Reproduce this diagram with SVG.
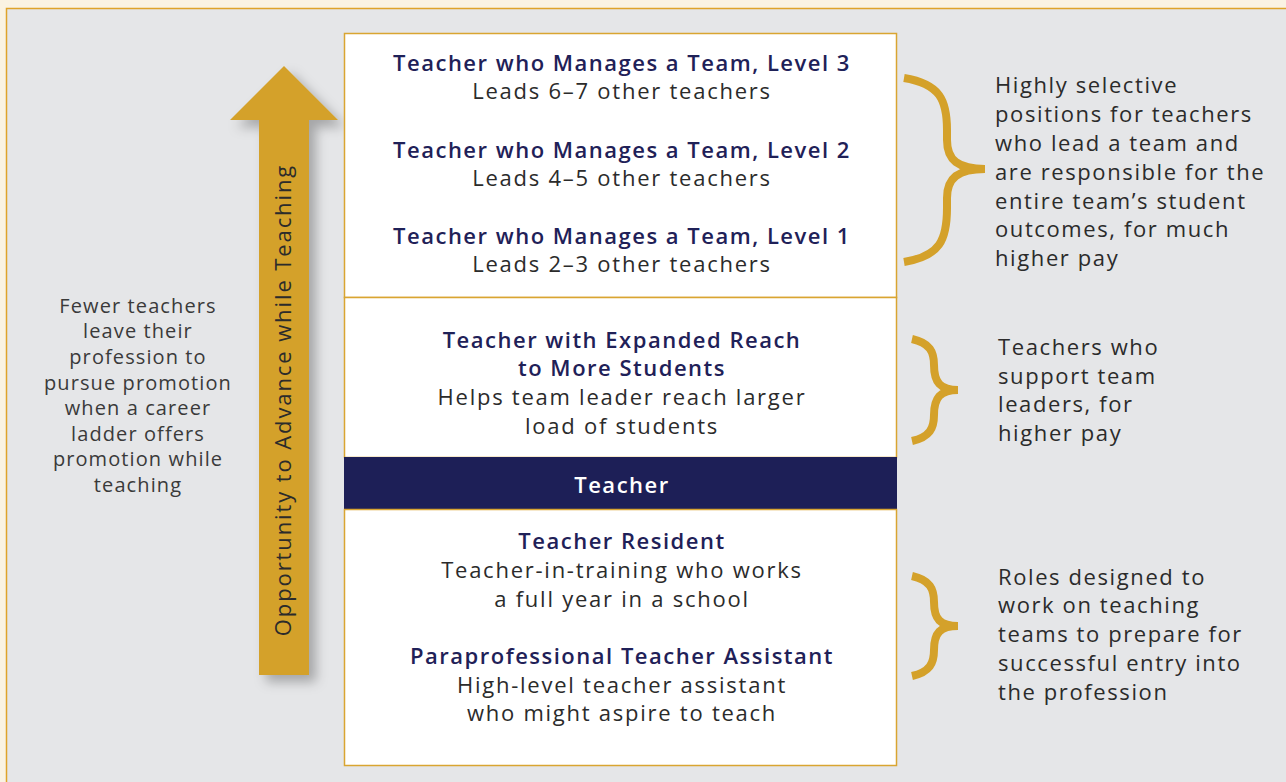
<svg xmlns="http://www.w3.org/2000/svg" width="1286" height="782" viewBox="0 0 1286 782">
<defs>
<filter id="shadow" x="-40%" y="-20%" width="180%" height="140%">
<feDropShadow dx="7" dy="7" stdDeviation="6" flood-color="#000" flood-opacity="0.28"/>
</filter>
<style>
.t{font-family:"Open Sans","Liberation Sans",sans-serif;font-size:22px;font-weight:600;fill:#1f2158;text-anchor:middle;letter-spacing:1.5px}
.s{font-family:"Open Sans","Liberation Sans",sans-serif;font-size:22px;fill:#2b2b2b;text-anchor:middle;letter-spacing:1.75px}
.r{font-family:"Open Sans","Liberation Sans",sans-serif;font-size:22px;fill:#2b2b2b;letter-spacing:1.6px}
.l{font-family:"Open Sans","Liberation Sans",sans-serif;font-size:20px;fill:#3a3a3a;text-anchor:middle;letter-spacing:1.1px}
.brace{fill:none;stroke:#d4a12a;stroke-width:8;stroke-linecap:butt}
.box{fill:#fff;stroke:#d9a531;stroke-width:1.5}
</style>
</defs>
<rect x="0" y="0" width="1286" height="782" fill="#faf3e3"/>
<rect x="6.5" y="8.5" width="1290" height="790" fill="#e5e6e8" stroke="#dfa32a" stroke-width="1.5"/>

<g id="arrow">
<path d="M259,675 L259,120 L230,120 L284,66 L338,120 L309,120 L309,675 Z" fill="#d4a12a" filter="url(#shadow)"/>
<text transform="translate(291,400) rotate(-90)" font-family="'Open Sans','Liberation Sans',sans-serif" font-size="22" fill="#2b2b2b" text-anchor="middle" letter-spacing="1.9">Opportunity to Advance while Teaching</text>
</g>

<g id="left-note">
<text class="l" x="138" y="313">Fewer teachers</text>
<text class="l" x="138" y="338">leave their</text>
<text class="l" x="138" y="364">profession to</text>
<text class="l" x="138" y="390">pursue promotion</text>
<text class="l" x="138" y="415">when a career</text>
<text class="l" x="138" y="441">ladder offers</text>
<text class="l" x="138" y="466">promotion while</text>
<text class="l" x="138" y="492">teaching</text>
</g>

<g id="box-managers">
<rect class="box" x="344.5" y="33.5" width="552" height="264"/>
<text class="t" x="622" y="71">Teacher who Manages a Team, Level 3</text>
<text class="s" x="622" y="99">Leads 6–7 other teachers</text>
<text class="t" x="622" y="158">Teacher who Manages a Team, Level 2</text>
<text class="s" x="622" y="186">Leads 4–5 other teachers</text>
<text class="t" x="622" y="244">Teacher who Manages a Team, Level 1</text>
<text class="s" x="622" y="272">Leads 2–3 other teachers</text>
</g>

<g id="box-expanded">
<rect class="box" x="344.5" y="297.5" width="552" height="160"/>
<text class="t" x="622" y="348">Teacher with Expanded Reach</text>
<text class="t" x="622" y="376">to More Students</text>
<text class="s" x="622" y="405">Helps team leader reach larger</text>
<text class="s" x="622" y="434">load of students</text>
</g>

<g id="box-teacher">
<rect x="344" y="457" width="553" height="52" fill="#1d1f57"/>
<text class="t" x="622" y="493" style="fill:#fff">Teacher</text>
</g>

<g id="box-entry">
<rect class="box" x="344.5" y="509.5" width="552" height="256"/>
<text class="t" x="622" y="549">Teacher Resident</text>
<text class="s" x="622" y="578">Teacher-in-training who works</text>
<text class="s" x="622" y="607">a full year in a school</text>
<text class="t" x="622" y="664">Paraprofessional Teacher Assistant</text>
<text class="s" x="622" y="693">High-level teacher assistant</text>
<text class="s" x="622" y="721">who might aspire to teach</text>
</g>

<g id="connectors">
<path class="brace" d="M904,78 C940,84 947,100 947,130 L947,140 C947,160 958,169 985,169 C958,169 947,178 947,198 L947,208 C947,240 940,256 904,262"/>
<path class="brace" d="M912,339 C930,343 934,352 934,365 C934,382 940,390 958,390 C940,390 934,398 934,415 C934,428 930,437 912,441"/>
<path class="brace" d="M912,576 C930,580 934,589 934,602 C934,619 940,626 958,626 C940,626 934,633 934,650 C934,663 930,672 912,676"/>
</g>

<g id="note-managers">
<text class="r" x="995" y="93">Highly selective</text>
<text class="r" x="995" y="122">positions for teachers</text>
<text class="r" x="995" y="151">who lead a team and</text>
<text class="r" x="995" y="180">are responsible for the</text>
<text class="r" x="995" y="209">entire team’s student</text>
<text class="r" x="995" y="237">outcomes, for much</text>
<text class="r" x="995" y="266">higher pay</text>
</g>
<g id="note-expanded">
<text class="r" x="998" y="355">Teachers who</text>
<text class="r" x="998" y="384">support team</text>
<text class="r" x="998" y="412">leaders, for</text>
<text class="r" x="998" y="441">higher pay</text>
</g>
<g id="note-entry">
<text class="r" x="998" y="585">Roles designed to</text>
<text class="r" x="998" y="613">work on teaching</text>
<text class="r" x="998" y="642">teams to prepare for</text>
<text class="r" x="998" y="671">successful entry into</text>
<text class="r" x="998" y="700">the profession</text>
</g>
</svg>
